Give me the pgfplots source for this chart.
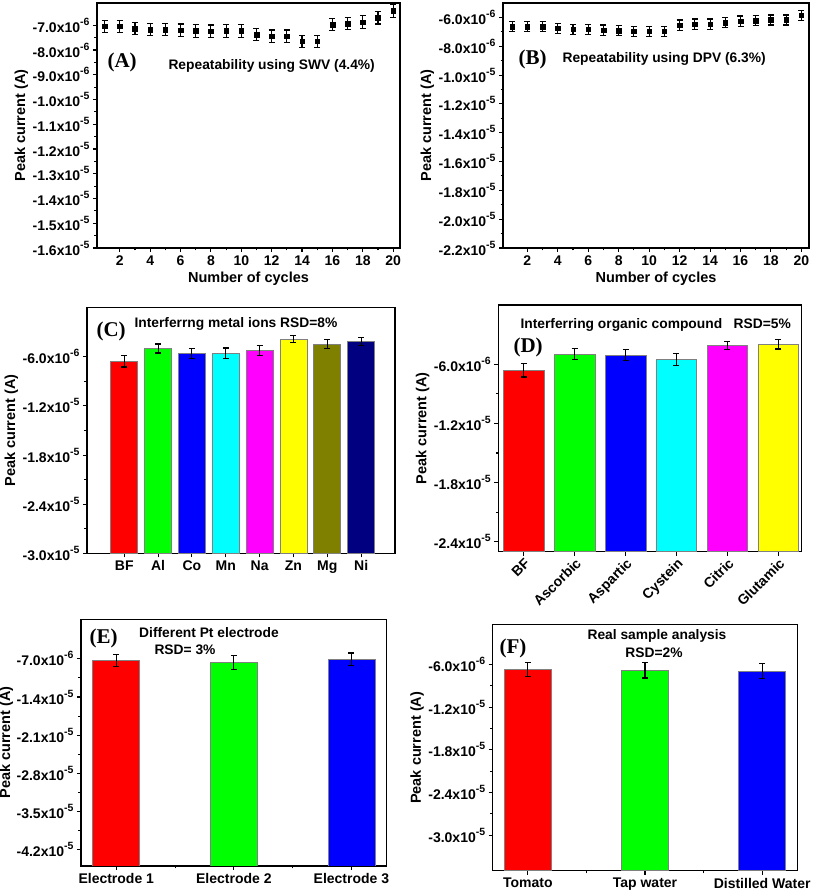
\documentclass[border=0pt]{standalone}
\usepackage{fontspec}
\setmainfont{Liberation Sans}
\newfontfamily\tnr{Liberation Serif}
\usepackage{pgfplots}
\pgfplotsset{compat=1.18}
\newcommand\ex[2]{#1x10\raisebox{0.5em}{\fontsize{10.5}{10.5}\selectfont #2}}
\definecolor{cred}{RGB}{255,0,0}
\definecolor{cgreen}{RGB}{0,255,0}
\definecolor{cblue}{RGB}{0,0,255}
\definecolor{ccyan}{RGB}{0,255,255}
\definecolor{cmagenta}{RGB}{255,0,255}
\definecolor{cyellow}{RGB}{255,255,0}
\definecolor{colive}{RGB}{128,128,0}
\definecolor{cnavy}{RGB}{0,0,128}
\pgfplotsset{
 panel/.style={
  scale only axis, anchor=south west,
  axis line style={line width=1.2pt},
  every tick/.append style={line width=1.1pt, black},
  major tick length=4pt, minor tick length=2.5pt,
  tick align=outside, xtick pos=bottom, ytick pos=left,
  scaled y ticks=false, scaled x ticks=false,
  tick label style={font=\bfseries\fontsize{14}{15}\selectfont},
  label style={font=\bfseries\fontsize{14.5}{16}\selectfont},
  ylabel style={inner sep=1pt},
  /pgf/number format/assume math mode=true,
  minor y tick num=1,
  ylabel={Peak current (A)},
 },
 eb/.style={error bars/.cd, y dir=both, y explicit,
   error bar style={line width=1.1pt, draw=black, solid},
   error mark options={rotate=90, mark size=3pt, line width=1.1pt, draw=black, solid}},
 barst/.style={draw=gray, line width=0.7pt},
 ebonly/.style={draw=none, mark=none, forget plot},
}
\newcommand\ann{\bfseries\fontsize{13.8}{15.5}\selectfont}
\begin{document}
\begin{tikzpicture}
\useasboundingbox (0,0) rectangle (813pt,894pt);

% ---------------- A
\begin{axis}[panel, at={(97pt,646pt)}, width=303pt, height=245pt,
  xmin=0.5, xmax=20.45, ymin=-1.6e-5, ymax=-6.1e-6,
  xtick={2,4,...,20}, minor x tick num=1,
  ytick={-1.6e-5,-1.5e-5,-1.4e-5,-1.3e-5,-1.2e-5,-1.1e-5,-1.0e-5,-9e-6,-8e-6,-7e-6},
  yticklabels={\ex{-1.6}{-5},\ex{-1.5}{-5},\ex{-1.4}{-5},\ex{-1.3}{-5},\ex{-1.2}{-5},\ex{-1.1}{-5},\ex{-1.0}{-5},\ex{-9.0}{-6},\ex{-8.0}{-6},\ex{-7.0}{-6}},
  xlabel={Number of cycles}]
\addplot[only marks, mark=square*, mark size=2.3pt, black, eb] coordinates {
(1,-7.04e-6) +- (0,0.25e-6)
(2,-7.04e-6) +- (0,0.25e-6)
(3,-7.13e-6) +- (0,0.25e-6)
(4,-7.17e-6) +- (0,0.25e-6)
(5,-7.17e-6) +- (0,0.25e-6)
(6,-7.20e-6) +- (0,0.25e-6)
(7,-7.23e-6) +- (0,0.25e-6)
(8,-7.24e-6) +- (0,0.25e-6)
(9,-7.23e-6) +- (0,0.25e-6)
(10,-7.23e-6) +- (0,0.25e-6)
(11,-7.38e-6) +- (0,0.25e-6)
(12,-7.44e-6) +- (0,0.25e-6)
(13,-7.44e-6) +- (0,0.25e-6)
(14,-7.65e-6) +- (0,0.25e-6)
(15,-7.65e-6) +- (0,0.25e-6)
(16,-6.97e-6) +- (0,0.25e-6)
(17,-6.93e-6) +- (0,0.25e-6)
(18,-6.87e-6) +- (0,0.25e-6)
(19,-6.70e-6) +- (0,0.25e-6)
(20,-6.42e-6) +- (0,0.25e-6)
};
\end{axis}
\node[font=\tnr\bfseries\fontsize{21}{21}\selectfont, anchor=west] at (104pt,832pt) {(A)};
\node[font=\ann, anchor=west] at (165pt,828pt) {Repeatability using SWV (4.4\%)};

% ---------------- B
\begin{axis}[panel, at={(503pt,646pt)}, width=306pt, height=245pt,
  xmin=0.4, xmax=20.5, ymin=-2.2e-5, ymax=-5.0e-6,
  xtick={2,4,...,20}, minor x tick num=1,
  ytick={-2.2e-5,-2.0e-5,-1.8e-5,-1.6e-5,-1.4e-5,-1.2e-5,-1.0e-5,-8e-6,-6e-6},
  yticklabels={\ex{-2.2}{-5},\ex{-2.0}{-5},\ex{-1.8}{-5},\ex{-1.6}{-5},\ex{-1.4}{-5},\ex{-1.2}{-5},\ex{-1.0}{-5},\ex{-8.0}{-6},\ex{-6.0}{-6}},
  xlabel={Number of cycles}]
\addplot[only marks, mark=square*, mark size=2.3pt, black, eb] coordinates {
(1,-6.65e-6) +- (0,0.35e-6)
(2,-6.65e-6) +- (0,0.35e-6)
(3,-6.65e-6) +- (0,0.35e-6)
(4,-6.76e-6) +- (0,0.35e-6)
(5,-6.83e-6) +- (0,0.35e-6)
(6,-6.83e-6) +- (0,0.35e-6)
(7,-6.88e-6) +- (0,0.35e-6)
(8,-6.92e-6) +- (0,0.35e-6)
(9,-6.95e-6) +- (0,0.35e-6)
(10,-6.95e-6) +- (0,0.35e-6)
(11,-6.95e-6) +- (0,0.35e-6)
(12,-6.53e-6) +- (0,0.35e-6)
(13,-6.46e-6) +- (0,0.35e-6)
(14,-6.46e-6) +- (0,0.35e-6)
(15,-6.37e-6) +- (0,0.35e-6)
(16,-6.25e-6) +- (0,0.35e-6)
(17,-6.23e-6) +- (0,0.35e-6)
(18,-6.18e-6) +- (0,0.35e-6)
(19,-6.18e-6) +- (0,0.35e-6)
(20,-5.84e-6) +- (0,0.35e-6)
};
\end{axis}
\node[font=\tnr\bfseries\fontsize{21}{21}\selectfont, anchor=west] at (515pt,835pt) {(B)};
\node[font=\ann, anchor=west] at (559pt,835pt) {Repeatability using DPV (6.3\%)};

% ---------------- C
\begin{axis}[panel, at={(87pt,340.7pt)}, width=308pt, height=245.6pt,
  xmin=-1.1, xmax=8, ymin=-3e-5, ymax=0,
  xtick={0,...,7}, xticklabels={BF,Al,Co,Mn,Na,Zn,Mg,Ni},
  ytick={-3e-5,-2.4e-5,-1.8e-5,-1.2e-5,-6e-6},
  yticklabels={\ex{-3.0}{-5},\ex{-2.4}{-5},\ex{-1.8}{-5},\ex{-1.2}{-5},\ex{-6.0}{-6}}]
\addplot[barst, fill=cred] coordinates {(-0.4,-3e-5) (-0.4,-6.53e-6) (0.4,-6.53e-6) (0.4,-3e-5)} -- cycle;
\addplot[barst, fill=cgreen] coordinates {(0.6,-3e-5) (0.6,-4.98e-6) (1.4,-4.98e-6) (1.4,-3e-5)} -- cycle;
\addplot[barst, fill=cblue] coordinates {(1.6,-3e-5) (1.6,-5.63e-6) (2.4,-5.63e-6) (2.4,-3e-5)} -- cycle;
\addplot[barst, fill=ccyan] coordinates {(2.6,-3e-5) (2.6,-5.55e-6) (3.4,-5.55e-6) (3.4,-3e-5)} -- cycle;
\addplot[barst, fill=cmagenta] coordinates {(3.6,-3e-5) (3.6,-5.18e-6) (4.4,-5.18e-6) (4.4,-3e-5)} -- cycle;
\addplot[barst, fill=cyellow] coordinates {(4.6,-3e-5) (4.6,-3.84e-6) (5.4,-3.84e-6) (5.4,-3e-5)} -- cycle;
\addplot[barst, fill=colive] coordinates {(5.6,-3e-5) (5.6,-4.45e-6) (6.4,-4.45e-6) (6.4,-3e-5)} -- cycle;
\addplot[barst, fill=cnavy] coordinates {(6.6,-3e-5) (6.6,-4.08e-6) (7.4,-4.08e-6) (7.4,-3e-5)} -- cycle;
\addplot[ebonly, eb] coordinates {
(0,-6.53e-6) +- (0,0.71e-6)
(1,-4.98e-6) +- (0,0.55e-6)
(2,-5.63e-6) +- (0,0.61e-6)
(3,-5.55e-6) +- (0,0.63e-6)
(4,-5.18e-6) +- (0,0.61e-6)
(5,-3.84e-6) +- (0,0.45e-6)
(6,-4.45e-6) +- (0,0.51e-6)
(7,-4.08e-6) +- (0,0.49e-6)
};
\end{axis}
\node[font=\tnr\bfseries\fontsize{21}{21}\selectfont, anchor=west] at (93pt,563pt) {(C)};
\node[font=\ann, anchor=west] at (131pt,570pt) {Interferrng metal ions RSD=8\%};

% ---------------- D
\begin{axis}[panel, at={(498.3pt,342.3pt)}, width=303.4pt, height=246.7pt,
  xmin=-0.5, xmax=5.46, ymin=-2.5e-5, ymax=0,
  xtick={0,...,5}, xticklabels={BF,Ascorbic,Aspartic,Cystein,Citric,Glutamic},
  xticklabel style={rotate=45, anchor=north east, inner sep=1pt},
  ytick={-2.4e-5,-1.8e-5,-1.2e-5,-6e-6},
  yticklabels={\ex{-2.4}{-5},\ex{-1.8}{-5},\ex{-1.2}{-5},\ex{-6.0}{-6}}]
\addplot[barst, fill=cred] coordinates {(-0.4,-2.5e-5) (-0.4,-6.61e-6) (0.4,-6.61e-6) (0.4,-2.5e-5)} -- cycle;
\addplot[barst, fill=cgreen] coordinates {(0.6,-2.5e-5) (0.6,-4.98e-6) (1.4,-4.98e-6) (1.4,-2.5e-5)} -- cycle;
\addplot[barst, fill=cblue] coordinates {(1.6,-2.5e-5) (1.6,-5.09e-6) (2.4,-5.09e-6) (2.4,-2.5e-5)} -- cycle;
\addplot[barst, fill=ccyan] coordinates {(2.6,-2.5e-5) (2.6,-5.53e-6) (3.4,-5.53e-6) (3.4,-2.5e-5)} -- cycle;
\addplot[barst, fill=cmagenta] coordinates {(3.6,-2.5e-5) (3.6,-4.10e-6) (4.4,-4.10e-6) (4.4,-2.5e-5)} -- cycle;
\addplot[barst, fill=cyellow] coordinates {(4.6,-2.5e-5) (4.6,-4.00e-6) (5.4,-4.00e-6) (5.4,-2.5e-5)} -- cycle;
\addplot[ebonly, eb] coordinates {
(0,-6.61e-6) +- (0,0.69e-6)
(1,-4.98e-6) +- (0,0.54e-6)
(2,-5.09e-6) +- (0,0.56e-6)
(3,-5.53e-6) +- (0,0.59e-6)
(4,-4.10e-6) +- (0,0.44e-6)
(5,-4.00e-6) +- (0,0.46e-6)
};
\end{axis}
\node[font=\ann, anchor=west] at (517pt,569pt) {Interferring organic compound\ \ \ RSD=5\%};
\node[font=\tnr\bfseries\fontsize{21}{21}\selectfont, anchor=west] at (510pt,547pt) {(D)};

% ---------------- E
\begin{axis}[panel, at={(81pt,28pt)}, width=305.7pt, height=246.7pt,
  xmin=-0.3, xmax=2.3, ymin=-4.5e-5, ymax=0.25e-6,
  xtick={0,1,2}, xticklabels={Electrode 1,Electrode 2,Electrode 3}, minor x tick num=1,
  ytick={-4.2e-5,-3.5e-5,-2.8e-5,-2.1e-5,-1.4e-5,-7e-6},
  yticklabels={\ex{-4.2}{-5},\ex{-3.5}{-5},\ex{-2.8}{-5},\ex{-2.1}{-5},\ex{-1.4}{-5},\ex{-7.0}{-6}},
  ylabel style={inner sep=0pt}]
\addplot[barst, fill=cred] coordinates {(-0.2,-4.5e-5) (-0.2,-7.31e-6) (0.2,-7.31e-6) (0.2,-4.5e-5)} -- cycle;
\addplot[barst, fill=cgreen] coordinates {(0.8,-4.5e-5) (0.8,-7.61e-6) (1.2,-7.61e-6) (1.2,-4.5e-5)} -- cycle;
\addplot[barst, fill=cblue] coordinates {(1.8,-4.5e-5) (1.8,-7.06e-6) (2.2,-7.06e-6) (2.2,-4.5e-5)} -- cycle;
\addplot[ebonly, eb] coordinates {
(0,-7.31e-6) +- (0,1.13e-6)
(1,-7.61e-6) +- (0,1.28e-6)
(2,-7.06e-6) +- (0,1.13e-6)
};
\end{axis}
\node[font=\tnr\bfseries\fontsize{21}{21}\selectfont, anchor=west] at (86pt,256pt) {(E)};
\node[font=\ann] at (209pt,261pt) {Different Pt electrode};
\node[font=\ann] at (185pt,244pt) {RSD= 3\%};

% ---------------- F
\begin{axis}[panel, at={(492.7pt,23.2pt)}, width=304.6pt, height=246pt,
  xmin=-0.3, xmax=2.3, ymin=-3.5e-5, ymax=-0.4e-6,
  xtick={0,1,2}, xticklabels={Tomato,Tap water,Distilled Water}, minor x tick num=1,
  ytick={-3e-5,-2.4e-5,-1.8e-5,-1.2e-5,-6e-6},
  yticklabels={\ex{-3.0}{-5},\ex{-2.4}{-5},\ex{-1.8}{-5},\ex{-1.2}{-5},\ex{-6.0}{-6}}]
\addplot[barst, fill=cred] coordinates {(-0.2,-3.5e-5) (-0.2,-6.65e-6) (0.2,-6.65e-6) (0.2,-3.5e-5)} -- cycle;
\addplot[barst, fill=cgreen] coordinates {(0.8,-3.5e-5) (0.8,-6.80e-6) (1.2,-6.80e-6) (1.2,-3.5e-5)} -- cycle;
\addplot[barst, fill=cblue] coordinates {(1.8,-3.5e-5) (1.8,-6.89e-6) (2.2,-6.89e-6) (2.2,-3.5e-5)} -- cycle;
\addplot[ebonly, eb] coordinates {
(0,-6.65e-6) +- (0,1.00e-6)
(1,-6.80e-6) +- (0,1.08e-6)
(2,-6.89e-6) +- (0,1.08e-6)
};
\end{axis}
\node[font=\tnr\bfseries\fontsize{21}{21}\selectfont, anchor=west] at (496pt,246pt) {(F)};
\node[font=\ann] at (657pt,258pt) {Real sample analysis};
\node[font=\ann] at (654pt,241pt) {RSD=2\%};
\end{tikzpicture}
\end{document}
